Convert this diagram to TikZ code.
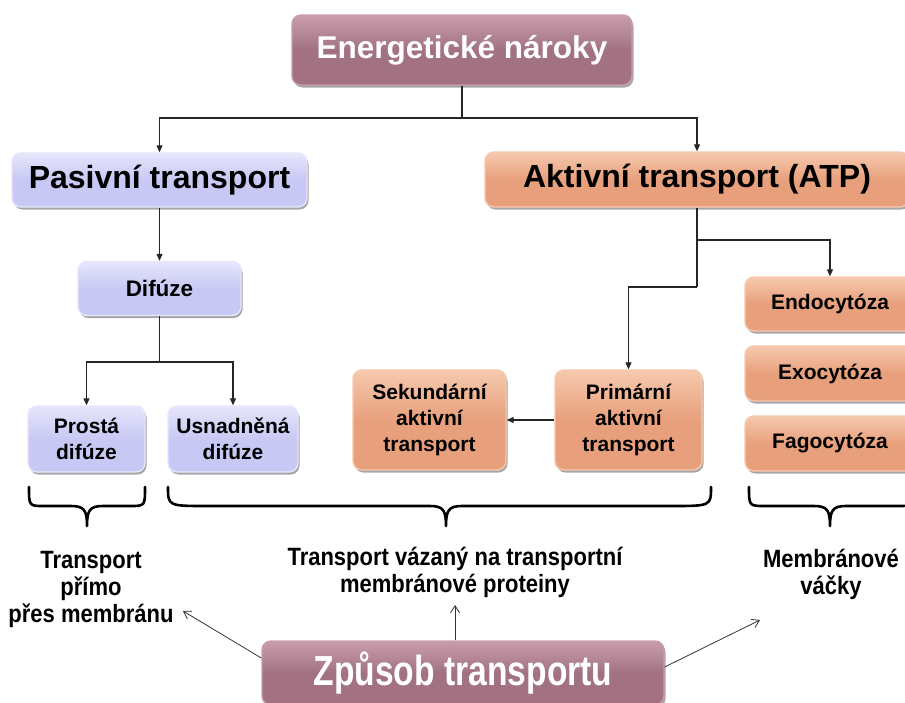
\documentclass[tikz,border=0pt]{standalone}
\usepackage{fontspec}
\setmainfont{Liberation Sans}
\newfontfamily\narrowA[FakeStretch=0.88]{Liberation Sans}
\newfontfamily\narrowB[FakeStretch=0.8]{Liberation Sans}
\usetikzlibrary{arrows.meta,shadows}
\definecolor{mauveB}{HTML}{A27282}
\definecolor{mauveL}{HTML}{C99DAD}
\definecolor{lavB}{HTML}{C8C8F4}
\definecolor{lavL}{HTML}{E6E6FC}
\definecolor{salB}{HTML}{E8A07C}
\definecolor{salL}{HTML}{F6C9AE}
\newcommand\mybrace[4]{%
  \draw[bracestyle] (#1,487) .. controls (#1,506) and (#1,506) .. ({#1+#4},506)
    -- ({#3-16},506) .. controls ({#3-3},506) and (#3,510) .. (#3,526)
    .. controls (#3,510) and ({#3+3},506) .. ({#3+16},506)
    -- ({#2-#4},506) .. controls (#2,506) and (#2,506) .. (#2,487);}
\begin{document}
\begin{tikzpicture}[x=1pt,y=-1pt,
  box/.style={rectangle, rounded corners=9pt, line width=1.4pt, inner sep=0pt, align=center,
    drop shadow={shadow xshift=1.5pt, shadow yshift=-2.5pt, opacity=0.35, fill=black}},
  mauvebox/.style={box, draw=mauveL, top color=mauveL, bottom color=mauveB, middle color=mauveB, text=white},
  lavbox/.style={box, draw=lavL, top color=lavL, bottom color=lavB, middle color=lavB, text=black},
  salbox/.style={box, draw=salL, top color=salL, bottom color=salB, middle color=salB, text=black},
  bigfont/.style={font=\fontsize{31.5}{36}\selectfont\bfseries},
  smallfont/.style={font=\fontsize{21}{26}\selectfont\bfseries},
  conn/.style={line width=1.1pt, draw=black!85},
  arr/.style={conn, -{Triangle[length=7pt,width=6pt]}},
  thinarr/.style={line width=0.8pt, draw=black!80, -{Straight Barb[length=7pt,width=9pt]}},
  bracestyle/.style={line width=2.6pt, line cap=round, line join=round},
  lbl/.style={align=center, font=\narrowA\fontsize{25}{27}\selectfont\bfseries}
]
\useasboundingbox (0,0) rectangle (905,702);
\fill[white] (0,0) rectangle (905,702);

% boxes
\node[mauvebox, bigfont, minimum width=340pt, minimum height=70pt] (en) at (462,50) {Energetické nároky};
\node[lavbox, font=\fontsize{32}{36}\selectfont\bfseries, minimum width=295pt, minimum height=54pt] (pas) at (159.5,180) {Pasivní transport};
\node[salbox, font=\fontsize{32}{36}\selectfont\bfseries, minimum width=424pt, minimum height=55pt] (akt) at (697,179.5) {Aktivní transport (ATP)};
\node[lavbox, font=\fontsize{22.5}{26}\selectfont\bfseries, minimum width=163pt, minimum height=54pt] (dif) at (159.5,288.5) {Difúze};
\node[lavbox, smallfont, minimum width=117pt, minimum height=66pt] (pro) at (86.5,439) {Prostá\\difúze};
\node[lavbox, smallfont, minimum width=130pt, minimum height=66pt] (usn) at (233,439) {Usnadněná\\difúze};
\node[salbox, smallfont, minimum width=153pt, minimum height=100pt] (sek) at (429.5,420) {Sekundární\\aktivní\\transport};
\node[salbox, smallfont, minimum width=147pt, minimum height=100pt] (pri) at (628.5,420) {Primární\\aktivní\\transport};
\node[salbox, smallfont, minimum width=170pt, minimum height=54pt] (endo) at (830,304) {Endocytóza};
\node[salbox, smallfont, minimum width=170pt, minimum height=55pt] (exo) at (830,373.5) {Exocytóza};
\node[salbox, smallfont, minimum width=170pt, minimum height=55pt] (fago) at (830,443.5) {Fagocytóza};
\node[mauvebox, font=\narrowB\fontsize{42}{46}\selectfont\bfseries, minimum width=402pt, minimum height=64pt] (zp) at (463,673) {Způsob transportu};

% junctions
\coordinate (j1) at (462,118);
\coordinate (j2) at (159.5,362);
\coordinate (j3) at (697,240);
\coordinate (j4) at (697,287);

% connectors
\draw[conn] (en.south) -- (j1);
\draw[arr] (j1) -| (pas.north);
\draw[arr] (j1) -| (akt.north);
\draw[arr] (pas.south) -- (dif.north);
\draw[conn] (dif.south) -- (j2);
\draw[arr] (j2) -| (pro.north);
\draw[arr] (j2) -| (usn.north);
\draw[conn] (akt.south) -- (j4);
\draw[arr] (j3) -| (endo.north);
\draw[arr] (j4) -| (pri.north);
\draw[arr] (pri.west) -- (sek.east);

% braces
\mybrace{29}{145}{87}{15}
\mybrace{168}{711}{446}{40}
\mybrace{749}{914}{830}{16}

% labels
\node[lbl] (tl) at (91,589) {Transport\\přímo\\přes membránu};
\node[lbl] (tm) at (455,572) {Transport vázaný na transportní\\membránové proteiny};
\node[lbl] (tr) at (831,574) {Membránové\\váčky};

% bottom arrows
\coordinate (a1) at (183,611);
\coordinate (a2) at (455,605);
\coordinate (a3) at (760,620);
\draw[thinarr] ([yshift=15pt]zp.west) -- (a1);
\draw[thinarr] (a2 |- zp.north) -- (a2);
\draw[thinarr] ([yshift=6pt]zp.east) -- (a3);
\end{tikzpicture}
\end{document}
